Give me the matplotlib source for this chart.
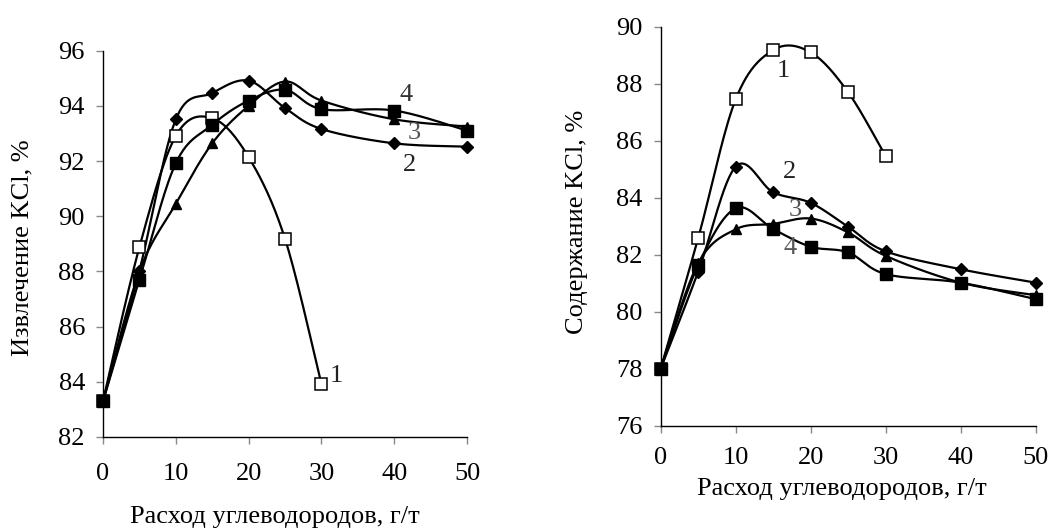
import numpy as np
import matplotlib
matplotlib.use('Agg')
from matplotlib import pyplot as plt

plt.rcParams['font.family'] = ['Liberation Serif', 'DejaVu Serif']

x_left = [0, 5, 10, 15, 20, 25, 30, 40, 50]
x_short = [0, 5, 10, 15, 20, 25, 30]

# extraction of KCl, %
rec_1 = [83.3, 88.88, 92.91, 93.55, 92.14, 89.18, 83.92]
rec_2 = [83.3, 88.03, 93.51, 94.46, 94.91, 93.92, 93.16, 92.64, 92.52]
rec_3 = [83.3, 88.0, 90.45, 92.64, 94.0, 94.88, 94.19, 93.51, 93.25]
rec_4 = [83.3, 87.7, 91.92, 93.31, 94.19, 94.58, 93.88, 93.83, 93.1]

# KCl content, %
con_1 = [78.0, 82.58, 87.45, 89.18, 89.1, 87.7, 85.46]
con_2 = [78.0, 81.4, 85.09, 84.19, 83.82, 82.98, 82.12, 81.49, 81.02]
con_3 = [78.0, 81.7, 82.89, 83.08, 83.27, 82.78, 81.96, 81.02, 80.58]
con_4 = [78.0, 81.64, 83.63, 82.9, 82.28, 82.08, 81.32, 81.02, 80.44]

labels = ['1', '2', '3', '4']
FS = 19


def smooth(ax, xs, ys, n=30):
    # excel-like bezier smoothing, done in pixel space
    pts = ax.transData.transform(np.column_stack([xs, ys]))
    p = np.vstack([pts[0], pts, pts[-1]])
    out = []
    t = np.linspace(0, 1, n)[:, None]
    for i in range(1, len(p) - 2):
        p0, p1, p2, p3 = p[i - 1], p[i], p[i + 1], p[i + 2]
        c1 = p1 + (p2 - p0) / 6
        c2 = p2 - (p3 - p1) / 6
        seg = ((1 - t) ** 3) * p1 + 3 * ((1 - t) ** 2) * t * c1 + 3 * (1 - t) * t ** 2 * c2 + t ** 3 * p2
        out.append(seg)
    out = np.vstack(out)
    return ax.transData.inverted().transform(out).T


def style_axes(ax, ylim, yticks, xpad):
    ax.set_xlim(0, 50)
    ax.set_ylim(*ylim)
    ax.set_xticks([0, 10, 20, 30, 40, 50])
    ax.set_yticks(yticks)
    ax.spines['top'].set_visible(False)
    ax.spines['right'].set_visible(False)
    ax.spines['left'].set_linewidth(1.0)
    ax.spines['bottom'].set_linewidth(1.0)
    ax.tick_params(direction='out', length=5, width=1, color='#888888', labelsize=FS)
    ax.tick_params(axis='x', pad=xpad)
    ax.tick_params(axis='y', pad=8)
    for s in ax.spines.values():
        s.set_clip_on(False)


fig = plt.figure(figsize=(10.5, 5.3), dpi=100)
ax1 = fig.add_axes([0.0981, 0.1755, 0.3467, 0.729])
ax2 = fig.add_axes([0.6292, 0.1968, 0.3571, 0.7528])

style_axes(ax1, (82, 96), [82, 84, 86, 88, 90, 92, 94, 96], 13.5)
style_axes(ax2, (76, 90), [76, 78, 80, 82, 84, 86, 88, 90], 10)

series_styles = [
    dict(marker='s', ms=8, mfc='white', mec='black', mew=1.1),
    dict(marker='D', ms=6, mfc='black', mec='black'),
    dict(marker='^', ms=7.5, mfc='black', mec='black'),
    dict(marker='s', ms=8, mfc='black', mec='black'),
]

for ax, data in [(ax1, [(x_short, rec_1), (x_left, rec_2), (x_left, rec_3), (x_left, rec_4)]),
                 (ax2, [(x_short, con_1), (x_left, con_2), (x_left, con_3), (x_left, con_4)])]:
    for k in range(4):
        xs, ys = data[k]
        sx, sy = smooth(ax, xs, ys)
        ax.plot(sx, sy, color='black', lw=1.6, clip_on=False, zorder=2)
    for k in range(4):
        xs, ys = data[k]
        ax.plot(xs, ys, ls='none', color='black', clip_on=False, zorder=3 + k, **series_styles[k])

# curve numbers
ax1.text(41.6, 94.39, labels[3], fontsize=FS, ha='center', va='center', color='#333333')
ax1.text(42.7, 93.01, labels[2], fontsize=FS, ha='center', va='center', color='#555555')
ax1.text(42.1, 91.85, labels[1], fontsize=FS, ha='center', va='center', color='#222222')
ax1.text(32.1, 84.21, labels[0], fontsize=FS, ha='center', va='center', color='#222222')

ax2.text(16.3, 88.45, labels[0], fontsize=FS, ha='center', va='center', color='#222222')
ax2.text(17.2, 84.9, labels[1], fontsize=FS, ha='center', va='center', color='#222222')
ax2.text(18.0, 83.56, labels[2], fontsize=FS, ha='center', va='center', color='#555555')
ax2.text(17.2, 82.23, labels[3], fontsize=FS, ha='center', va='center', color='#555555')

fig.text(0.262, 0.024, 'Расход углеводородов, г/т', fontsize=FS, ha='center', va='center')
fig.text(0.021, 0.532, 'Извлечение KCl, %', fontsize=FS, ha='center', va='center', rotation=90)
fig.text(0.802, 0.078, 'Расход углеводородов, г/т', fontsize=FS, ha='center', va='center')
fig.text(0.5495, 0.581, 'Содержание KCl, %', fontsize=FS, ha='center', va='center', rotation=90)

fig.savefig('out.png', dpi=100)
